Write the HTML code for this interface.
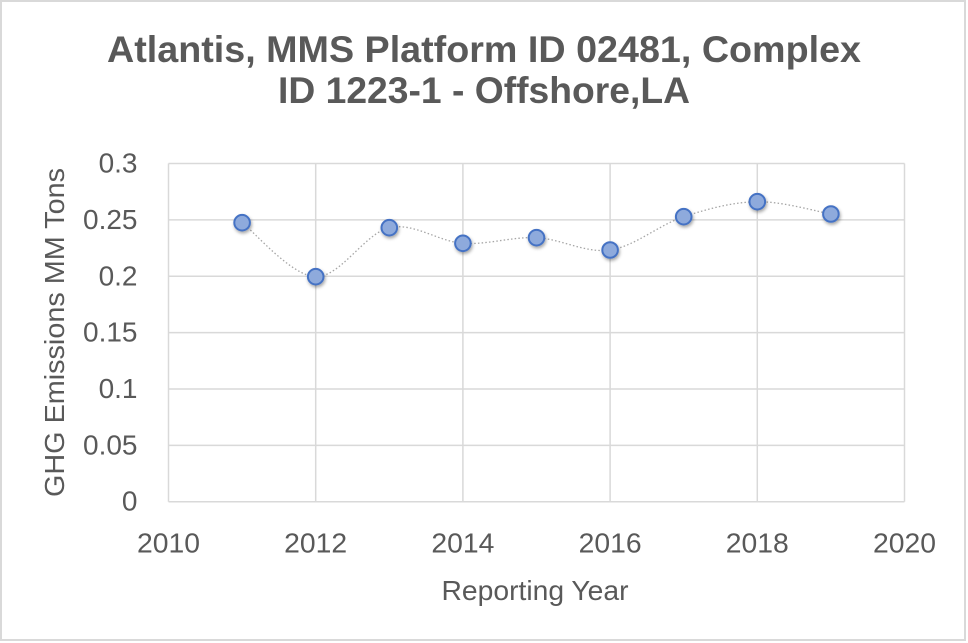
<!DOCTYPE html>
<html>
<head>
<meta charset="utf-8">
<style>
  html, body { margin: 0; padding: 0; background: #ffffff; }
  body { width: 968px; height: 643px; overflow: hidden; }
  svg { display: block; }
  text { font-family: "Liberation Sans", "DejaVu Sans", sans-serif; fill: #595959; }
</style>
</head>
<body>
<svg width="968" height="643" viewBox="0 0 968 643" xmlns="http://www.w3.org/2000/svg">
  <defs>
    <filter id="sh" x="-50%" y="-50%" width="200%" height="200%">
      <feDropShadow dx="1" dy="2" stdDeviation="1.6" flood-color="#000000" flood-opacity="0.35"/>
    </filter>
  </defs>
  <!-- outer border -->
  <rect x="1" y="1" width="964" height="639" fill="#ffffff" stroke="#d9d9d9" stroke-width="2"/>

  <!-- title -->
  <text x="484" y="62" text-anchor="middle" font-size="37" font-weight="bold" textLength="754" lengthAdjust="spacingAndGlyphs">Atlantis, MMS Platform ID 02481, Complex</text>
  <text x="484" y="103" text-anchor="middle" font-size="37" font-weight="bold" textLength="412" lengthAdjust="spacingAndGlyphs">ID 1223-1 - Offshore,LA</text>

  <!-- gridlines -->
  <g stroke="#d9d9d9" stroke-width="1.5" fill="none">
    <line x1="168.5" y1="163.5" x2="904.5" y2="163.5"/>
    <line x1="168.5" y1="219.9" x2="904.5" y2="219.9"/>
    <line x1="168.5" y1="276.3" x2="904.5" y2="276.3"/>
    <line x1="168.5" y1="332.6" x2="904.5" y2="332.6"/>
    <line x1="168.5" y1="389.0" x2="904.5" y2="389.0"/>
    <line x1="168.5" y1="445.4" x2="904.5" y2="445.4"/>
    <line x1="168.5" y1="501.7" x2="904.5" y2="501.7"/>
    <line x1="168.5" y1="163.5" x2="168.5" y2="501.7"/>
    <line x1="315.7" y1="163.5" x2="315.7" y2="501.7"/>
    <line x1="462.9" y1="163.5" x2="462.9" y2="501.7"/>
    <line x1="610.1" y1="163.5" x2="610.1" y2="501.7"/>
    <line x1="757.3" y1="163.5" x2="757.3" y2="501.7"/>
    <line x1="904.5" y1="163.5" x2="904.5" y2="501.7"/>
  </g>

  <!-- y tick labels -->
  <g font-size="28" text-anchor="end">
    <text x="137.5" y="172.5">0.3</text>
    <text x="137.5" y="228.9">0.25</text>
    <text x="137.5" y="285.3">0.2</text>
    <text x="137.5" y="341.6">0.15</text>
    <text x="137.5" y="398.0">0.1</text>
    <text x="137.5" y="454.4">0.05</text>
    <text x="137.5" y="510.7">0</text>
  </g>

  <!-- x tick labels -->
  <g font-size="28" text-anchor="middle">
    <text x="168.5" y="552.5" textLength="63" lengthAdjust="spacingAndGlyphs">2010</text>
    <text x="315.7" y="552.5" textLength="63" lengthAdjust="spacingAndGlyphs">2012</text>
    <text x="462.9" y="552.5" textLength="63" lengthAdjust="spacingAndGlyphs">2014</text>
    <text x="610.1" y="552.5" textLength="63" lengthAdjust="spacingAndGlyphs">2016</text>
    <text x="757.3" y="552.5" textLength="63" lengthAdjust="spacingAndGlyphs">2018</text>
    <text x="904.5" y="552.5" textLength="63" lengthAdjust="spacingAndGlyphs">2020</text>
  </g>

  <!-- axis titles -->
  <text x="535" y="600" font-size="28" text-anchor="middle" textLength="187" lengthAdjust="spacingAndGlyphs">Reporting Year</text>
  <text transform="translate(64,332.5) rotate(-90)" x="0" y="0" font-size="28" text-anchor="middle" textLength="329" lengthAdjust="spacingAndGlyphs">GHG Emissions MM Tons</text>

  <!-- series line -->
  <path d="M242.1,222.7 C254.37,231.7 291.17,275.87 315.7,276.7
           C340.23,277.53 364.77,233.27 389.3,227.7
           C413.83,222.13 438.37,241.63 462.9,243.3
           C487.43,244.97 511.97,236.58 536.5,237.7
           C561.03,238.82 585.57,253.5 610.1,250.0
           C634.63,246.5 659.17,224.75 683.7,216.7
           C708.23,208.65 732.77,202.15 757.3,201.7
           C781.83,201.25 818.63,211.95 830.9,214.0"
        fill="none" stroke="#a6a6a6" stroke-width="1.3" stroke-dasharray="1.5 2.2"/>

  <!-- markers -->
  <g fill="#8eaadc" stroke="#4472c4" stroke-width="2" filter="url(#sh)">
    <circle cx="242.1" cy="222.7" r="7.8"/>
    <circle cx="315.7" cy="276.7" r="7.8"/>
    <circle cx="389.3" cy="227.7" r="7.8"/>
    <circle cx="462.9" cy="243.3" r="7.8"/>
    <circle cx="536.5" cy="237.7" r="7.8"/>
    <circle cx="610.1" cy="250.0" r="7.8"/>
    <circle cx="683.7" cy="216.7" r="7.8"/>
    <circle cx="757.3" cy="201.7" r="7.8"/>
    <circle cx="830.9" cy="214.0" r="7.8"/>
  </g>
</svg>
</body>
</html>
